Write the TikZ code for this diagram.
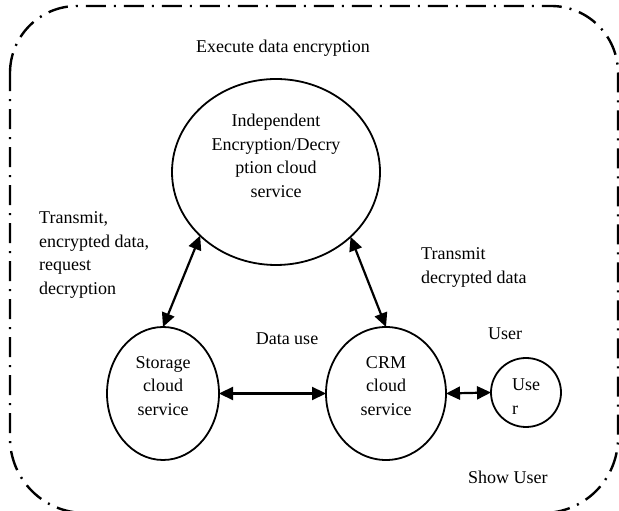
\documentclass[tikz,border=0pt]{standalone}
\usepackage{fontspec}
\setmainfont{Liberation Serif}
\usetikzlibrary{shapes.geometric,arrows.meta}
\tikzset{
  shp/.style={ellipse,draw,line width=1.8pt,inner sep=0pt,outer sep=0pt},
  txt/.style={font=\fontsize{18}{23.5}\selectfont,inner sep=0pt},
  conn/.style={line width=2.2pt,{Triangle[length=14pt,width=13pt]}-{Triangle[length=14pt,width=13pt]}},
  frame/.style={line width=2.4pt,dash pattern=on 20pt off 8pt on 2pt off 8pt}
}
\begin{document}
\begin{tikzpicture}[x=1pt,y=1pt]
\useasboundingbox (0,0) rectangle (619,511);
\clip (0,0) rectangle (619,511);
\fill[white] (0,0) rectangle (619,511);
% outer dash-dot boundary
\draw[frame] (10,438) arc[start angle=180,end angle=90,radius=67] -- (551,505)
  arc[start angle=90,end angle=0,radius=67] -- (618,73)
  arc[start angle=0,end angle=-90,radius=75] -- (85,-2)
  arc[start angle=270,end angle=180,radius=75] -- cycle;
% shapes
\node[shp,minimum width=208pt,minimum height=186pt] (enc) at (276,339) {};
\node[shp,minimum width=112pt,minimum height=133pt] (sto) at (163,117.5) {};
\node[shp,minimum width=120pt,minimum height=133pt] (crm) at (386,117.5) {};
\node[shp,minimum width=70pt,minimum height=69pt] (usr) at (526,118.5) {};
% texts in shapes
\node[txt,align=center] (enct) at (276,355) {Independent\\Encryption/Decry\\ption cloud\\service};
\node[txt,align=center] (stot) at (163,125) {Storage\\cloud\\service};
\node[txt,align=center] (crmt) at (386,125) {CRM\\cloud\\service};
\node[txt,align=left,anchor=west] (usrt) at (512,114.5) {Use\\r};
% labels
\node[txt] (lexec) at (283,463) {Execute data encryption};
\node[txt,align=left,anchor=west] (ltr1) at (39,256) {Transmit,\\encrypted data,\\request\\decryption};
\node[txt,align=left,anchor=west] (ltr2) at (421,243.5) {Transmit\\decrypted data};
\node[txt] (luser) at (505,177) {User};
\node[txt] (luse) at (287,172) {Data use};
\node[txt,anchor=west] (lshow) at (468,34) {Show User};
% connectors
\draw[conn] (enc.220.5) -- (sto.north);
\draw[conn] (enc.319.5) -- (crm.north);
\draw[conn] (sto.east) -- (crm.west);
\draw[conn] (crm.east) -- (usr.west);
\end{tikzpicture}
\end{document}
